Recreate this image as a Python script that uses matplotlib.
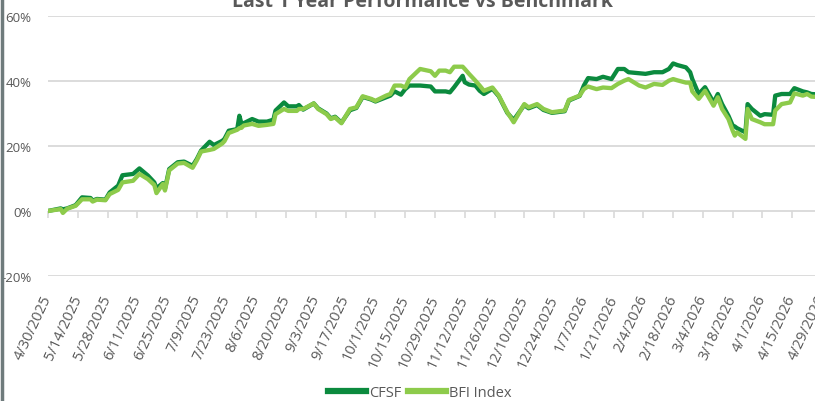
import numpy as np
import pandas as pd
import matplotlib
matplotlib.use("Agg")
import matplotlib.pyplot as plt
import matplotlib.dates as mdates
from matplotlib.lines import Line2D

# Werte (Rendite in %)
dates = [
    "2025-04-30", "2025-05-06", "2025-05-07", "2025-05-09", "2025-05-13", "2025-05-16",
    "2025-05-20", "2025-05-21", "2025-05-23", "2025-05-27", "2025-05-29", "2025-06-02",
    "2025-06-04", "2025-06-09", "2025-06-12", "2025-06-16", "2025-06-19", "2025-06-20",
    "2025-06-23", "2025-06-24", "2025-06-26", "2025-06-30", "2025-07-03", "2025-07-07",
    "2025-07-09", "2025-07-11", "2025-07-15", "2025-07-17", "2025-07-21", "2025-07-22",
    "2025-07-24", "2025-07-28", "2025-07-29", "2025-07-30", "2025-07-31", "2025-08-04",
    "2025-08-07", "2025-08-11", "2025-08-14", "2025-08-15", "2025-08-19", "2025-08-21",
    "2025-08-25", "2025-08-26", "2025-08-28", "2025-09-02", "2025-09-04", "2025-09-08",
    "2025-09-10", "2025-09-12", "2025-09-15", "2025-09-19", "2025-09-22", "2025-09-25",
    "2025-09-29", "2025-10-01", "2025-10-06", "2025-10-08", "2025-10-10", "2025-10-13",
    "2025-10-15", "2025-10-17", "2025-10-22", "2025-10-27", "2025-10-29", "2025-10-31",
    "2025-11-03", "2025-11-05", "2025-11-07", "2025-11-11", "2025-11-12", "2025-11-14",
    "2025-11-17", "2025-11-19", "2025-11-21", "2025-11-25", "2025-11-28", "2025-12-02",
    "2025-12-05", "2025-12-10", "2025-12-12", "2025-12-16", "2025-12-19", "2025-12-23",
    "2025-12-29", "2025-12-31", "2026-01-05", "2026-01-07", "2026-01-09", "2026-01-13",
    "2026-01-16", "2026-01-20", "2026-01-23", "2026-01-26", "2026-01-28", "2026-02-02",
    "2026-02-05", "2026-02-09", "2026-02-13", "2026-02-16", "2026-02-18", "2026-02-20",
    "2026-02-24", "2026-02-26", "2026-02-27", "2026-03-02", "2026-03-05", "2026-03-09",
    "2026-03-11", "2026-03-13", "2026-03-16", "2026-03-18", "2026-03-19", "2026-03-20",
    "2026-03-24", "2026-03-25", "2026-03-27", "2026-03-31", "2026-04-02", "2026-04-06",
    "2026-04-07", "2026-04-10", "2026-04-14", "2026-04-16", "2026-04-20", "2026-04-22",
    "2026-04-24", "2026-04-29",
]

cfsf = [
    0.0, 0.8, 0.5, 0.8, 1.8, 4.2,
    4.0, 3.2, 3.7, 3.5, 5.7, 7.8,
    11.0, 11.4, 13.1, 10.9, 8.8, 7.0,
    8.6, 6.8, 12.9, 15.0, 15.2, 13.9,
    16.0, 18.6, 21.3, 20.3, 21.6, 22.2,
    24.7, 25.2, 29.3, 26.8, 27.0, 28.3,
    27.5, 27.5, 28.1, 30.9, 33.4, 32.2,
    32.2, 32.6, 31.2, 33.1, 31.6, 30.0,
    28.5, 29.0, 27.2, 31.0, 31.7, 35.1,
    34.3, 33.7, 35.0, 35.5, 36.8, 35.8,
    37.5, 38.6, 38.6, 38.3, 36.8, 36.8,
    36.8, 36.5, 38.1, 41.6, 39.6, 38.9,
    38.6, 37.0, 36.0, 37.6, 35.3, 30.2,
    28.0, 32.6, 31.6, 32.6, 31.1, 30.2,
    30.7, 34.0, 35.4, 38.6, 40.9, 40.6,
    41.3, 40.6, 43.7, 43.7, 42.7, 42.4,
    42.2, 42.7, 42.7, 43.7, 45.4, 44.9,
    44.2, 42.7, 40.6, 36.0, 38.1, 33.4,
    36.0, 32.9, 29.3, 26.3, 26.0, 25.5,
    24.2, 32.9, 31.4, 29.3, 29.8, 29.6,
    35.5, 36.0, 36.0, 37.8, 36.8, 36.5,
    36.0, 35.8,
]

bfi = [
    0.0, 0.6, -0.6, 0.7, 1.6, 3.6,
    3.6, 2.9, 3.5, 3.3, 5.2, 6.5,
    8.8, 9.3, 11.4, 9.8, 8.0, 5.5,
    8.3, 6.3, 12.5, 14.6, 14.8, 13.3,
    15.6, 18.3, 18.8, 19.1, 20.8, 21.5,
    24.0, 25.0, 25.5, 25.6, 26.3, 26.8,
    26.2, 26.5, 26.8, 29.8, 31.4, 30.8,
    30.8, 31.4, 31.4, 33.1, 31.4, 29.8,
    28.3, 28.8, 27.0, 31.4, 31.9, 35.3,
    34.5, 33.9, 35.5, 36.0, 38.6, 38.6,
    38.0, 40.6, 43.7, 43.0, 41.6, 43.2,
    43.2, 42.7, 44.4, 44.4, 43.7, 42.2,
    40.1, 38.6, 37.0, 38.0, 35.5, 30.4,
    27.3, 32.9, 31.9, 32.9, 31.4, 30.4,
    30.9, 34.2, 35.5, 37.5, 38.3, 37.5,
    38.0, 37.8, 39.1, 40.1, 40.6, 38.6,
    38.0, 39.1, 38.8, 40.1, 40.6, 40.2,
    39.5, 39.5, 36.8, 34.5, 37.0, 32.4,
    35.0, 31.4, 28.3, 24.7, 23.2, 24.2,
    22.2, 31.4, 28.3, 27.3, 26.7, 26.7,
    30.9, 32.9, 33.4, 36.2, 35.5, 36.0,
    35.2, 35.0,
]

series_names = ["CFSF", "BFI Index"]
tick_dates = pd.date_range("2025-04-30", "2026-04-29", freq="14D")
tick_labels = [f"{d.month}/{d.day}/{d.year}" for d in tick_dates]
y_ticks = [-20, 0, 20, 40, 60]

x = pd.to_datetime(dates)

dark_green = "#0B8A3E"
light_green = "#8DCB4B"
grey_text = "#595959"
grid_col = "#D9D9D9"

plt.rcParams["font.family"] = ["Open Sans", "DejaVu Sans"]

fig = plt.figure(figsize=(8.15, 4.02), dpi=100)
ax = fig.add_axes([48 / 815, 125 / 402, 774 / 815, 260 / 402])

ax.plot(x, cfsf, color=dark_green, lw=3.1, label=series_names[0], solid_joinstyle="round")
ax.plot(x, bfi, color=light_green, lw=3.1, label=series_names[1], solid_joinstyle="round")

ax.set_xlim(tick_dates[0], tick_dates[-1])
ax.set_ylim(-20, 60)
ax.set_yticks(y_ticks)
ax.set_yticklabels([f"{v}%" for v in y_ticks])
ax.yaxis.grid(True, color=grid_col, lw=1.3)
ax.set_axisbelow(True)
for s in ax.spines.values():
    s.set_visible(False)
ax.tick_params(axis="y", length=0, pad=12, labelsize=9.5, labelcolor=grey_text)

ax.set_xticks(tick_dates)
ax.set_xticklabels(tick_labels, rotation=65, ha="right", va="center",
                   rotation_mode="anchor")
ax.tick_params(axis="x", length=0, pad=14, labelsize=10.5, labelcolor=grey_text)

# tick marks on the 0% line
sec = ax.secondary_xaxis(0.25)
sec.set_xticks(mdates.date2num(tick_dates))
sec.tick_params(axis="x", length=5, width=1.2, color=grid_col, labelbottom=False)
sec.spines["bottom"].set_visible(False)

fig.text(0.519, 1 - 7 / 402, "Last 1 Year Performance vs Benchmark", ha="center",
         va="baseline", fontsize=14, fontweight="bold", color=grey_text)

leg = fig.legend(loc="center", bbox_to_anchor=(0.515, 0.022), ncol=2, frameon=False,
                 fontsize=10.5, handlelength=2.6, handletextpad=0.2, columnspacing=0.5,
                 labelcolor=grey_text)
for h in leg.get_lines():
    h.set_linewidth(4.5)

fig.add_artist(Line2D([0.002, 0.002], [0, 1], transform=fig.transFigure,
                      color="#6F7B7C", lw=2.5))

fig.savefig("out.png", dpi=100)
